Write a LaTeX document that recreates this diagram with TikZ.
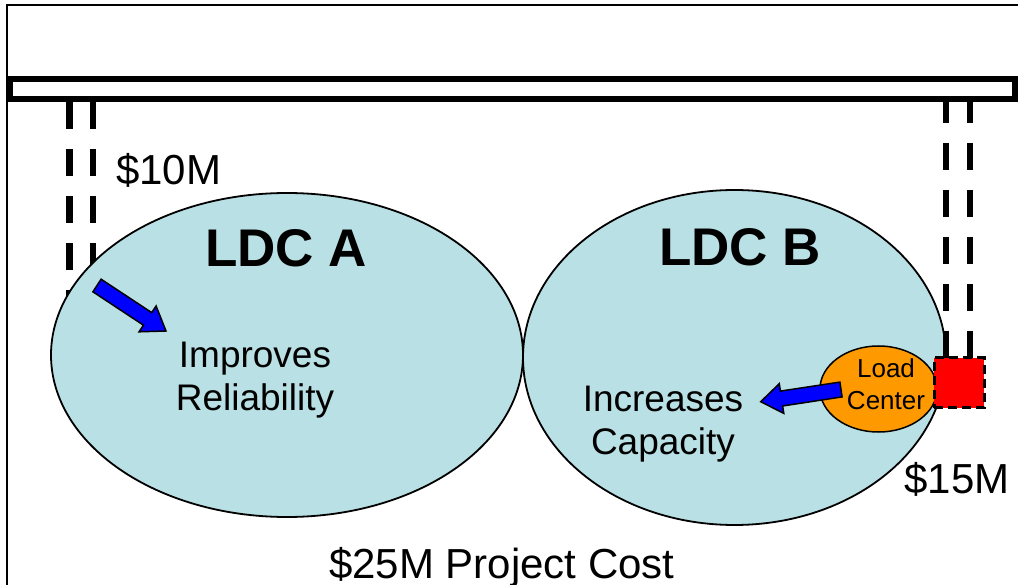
\documentclass[tikz,border=0pt]{standalone}
\usepackage{fontspec}
\setmainfont{Liberation Sans}
\usetikzlibrary{shapes.geometric}

\definecolor{ldcfill}{RGB}{185,224,228}
\definecolor{lcorange}{RGB}{255,153,0}
\definecolor{arrowblue}{RGB}{0,0,255}
\definecolor{subred}{RGB}{255,0,0}

\tikzset{
  frameline/.style={line width=2pt},
  busbar/.style={draw, line width=6pt, inner sep=0pt, minimum width=1005pt, minimum height=19.5pt},
  feeder/.style={line width=6.5pt, dash pattern=on 27pt off 20pt},
  ldc/.style={ellipse, draw, line width=1.8pt, fill=ldcfill, inner sep=0pt},
  loadcenter/.style={ellipse, draw, line width=1.5pt, fill=lcorange, inner sep=0pt},
  substation/.style={draw, fill=subred, line width=3pt, dash pattern=on 9pt off 5pt, inner sep=0pt, minimum size=50pt},
  blockarrow/.style={draw, line width=1.5pt, fill=arrowblue, line join=miter},
  txt/.style={inner sep=0pt, align=center},
  costfont/.style={font=\fontsize{42}{48}\selectfont},
  titlefont/.style={font=\bfseries\fontsize{53}{60}\selectfont},
  bodyfont/.style={font=\fontsize{37}{43}\selectfont},
  smallfont/.style={font=\fontsize{26}{32}\selectfont}
}

\begin{document}
\begin{tikzpicture}[x=1pt, y=-1pt]
\useasboundingbox (0,0) rectangle (1018,585);

% outer frame (top and left edges)
\draw[frameline] (1018,5) -| (7,585);

% common bus bar
\node[busbar] (bus) at (512.5,89.25) {};

% feeder end points
\coordinate (fa1) at (69.5,340);
\coordinate (fa2) at (93,340);
\coordinate (fb1) at (946,358);
\coordinate (fb2) at (970,358);

% feeders to LDC A
\draw[feeder] (bus.south -| fa1) -- (fa1);
\draw[feeder] (bus.south -| fa2) -- (fa2);

% the two LDC service areas
\node[ldc, minimum width=472pt, minimum height=324pt] (ldcA) at (287,355) {};
\node[ldc, minimum width=423pt, minimum height=335pt] (ldcB) at (734.5,357.5) {};

% feeders to the new substation
\draw[feeder, dash phase=6pt] (bus.south -| fb1) -- (fb1);
\draw[feeder, dash phase=6pt] (bus.south -| fb2) -- (fb2);

% titles and labels
\node[txt, titlefont, anchor=base] (titleA) at (286,267) {LDC A};
\node[txt, titlefont, anchor=base] (titleB) at (740,266) {LDC B};
\node[txt, costfont, anchor=base west] (costA) at (116,185) {\$10M};
\node[txt, costfont, anchor=base] (costB) at (957,493) {\$15M};
\node[txt, costfont, anchor=base] (total) at (502,578) {\$25M Project Cost};
\node[txt, bodyfont] (benefitA) at (255,380.6) {Improves\\Reliability};
\node[txt, bodyfont] (benefitB) at (663,424.6) {Increases\\Capacity};

% load centre of LDC B
\node[loadcenter, minimum width=117pt, minimum height=86pt] (lc) at (878.5,389) {};
\node[txt, smallfont] (lclabel) at (886,384) {Load\\Center};

% block arrows
\draw[blockarrow] (101.1,279.2) -- (151.7,312.6) -- (156.1,306.0) -- (166,331)
  -- (139.1,331.8) -- (143.5,325.2) -- (92.9,291.8) -- cycle;
\draw[blockarrow] (839.9,382.1) -- (780.4,391.1) -- (779.3,383.7) -- (760.7,401.7)
  -- (783.8,413.4) -- (782.6,406.0) -- (842.1,396.9) -- cycle;

% new substation
\node[substation] (sub) at (959,383) {};
\end{tikzpicture}
\end{document}
